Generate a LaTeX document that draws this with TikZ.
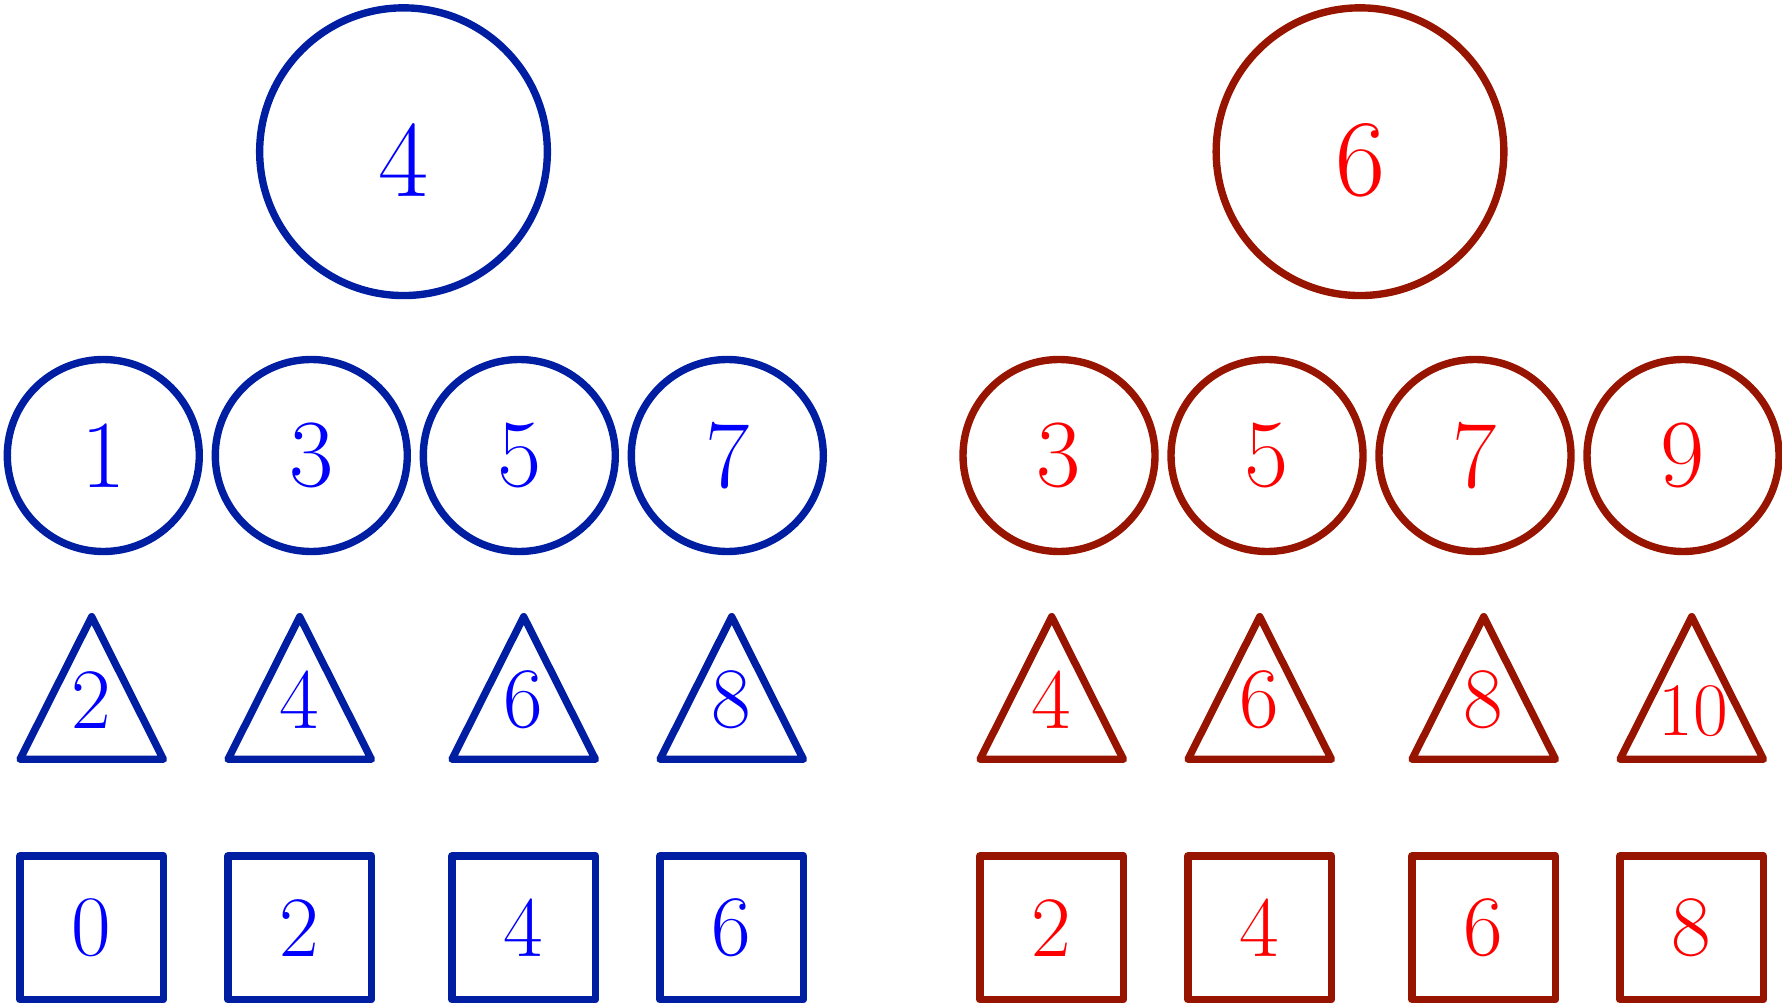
\documentclass[tikz,border=0pt]{standalone}
\usepackage{xcolor}
\usepackage{tikz}
\usetikzlibrary{positioning}

\definecolor{blueline}{RGB}{0,30,162}
\definecolor{redline}{RGB}{150,20,0}

\begin{document}
\begin{tikzpicture}[
    x=1cm, y=-1cm,
    shape line/.style={line width=2.1pt, line join=round},
    bigcirc/.style={
        draw, circle, shape line, inner sep=0pt,
        minimum size=2.877cm, text height=0.89cm,
        font=\fontsize{31}{36}\selectfont
    },
    smallcirc/.style={
        draw, circle, shape line, inner sep=0pt,
        minimum size=1.92cm, font=\fontsize{27.4}{32}\selectfont
    },
    sqbox/.style={
        draw, rectangle, shape line, inner sep=0pt,
        minimum size=1.437cm, font=\fontsize{24.5}{29}\selectfont
    },
    trilabel/.style={inner sep=0pt, font=\fontsize{24.5}{29}\selectfont},
    bluepart/.style={draw=blueline, text=blue},
    redpart/.style={draw=redline, text=red},
]
\useasboundingbox (0,0) rectangle (17.82,10.05);

% ── blue group ──
\node[bigcirc, bluepart] (blueTop) at (4.035,1.517) {4};

\node[smallcirc, bluepart] (blueC1) at (1.033,4.555) {1};
\node[smallcirc, bluepart] (blueC2) at (3.113,4.555) {3};
\node[smallcirc, bluepart] (blueC3) at (5.193,4.555) {5};
\node[smallcirc, bluepart] (blueC4) at (7.273,4.555) {7};

\node[trilabel, text=blue] (blueT1) at (0.917,7.00) {2};
\node[trilabel, text=blue] (blueT2) at (2.997,7.00) {4};
\node[trilabel, text=blue] (blueT3) at (5.237,7.00) {6};
\node[trilabel, text=blue] (blueT4) at (7.317,7.00) {8};
\draw[shape line, blueline] (0.917,6.167) -- ++(-0.717,1.426) -- ++(1.434,0) -- cycle;
\draw[shape line, blueline] (2.997,6.167) -- ++(-0.717,1.426) -- ++(1.434,0) -- cycle;
\draw[shape line, blueline] (5.237,6.167) -- ++(-0.717,1.426) -- ++(1.434,0) -- cycle;
\draw[shape line, blueline] (7.317,6.167) -- ++(-0.717,1.426) -- ++(1.434,0) -- cycle;

\node[sqbox, bluepart] (blueS1) at (0.917,9.278) {0};
\node[sqbox, bluepart] (blueS2) at (2.997,9.278) {2};
\node[sqbox, bluepart] (blueS3) at (5.237,9.278) {4};
\node[sqbox, bluepart] (blueS4) at (7.317,9.278) {6};

% ── red group ──
\node[bigcirc, redpart] (redTop) at (13.60,1.517) {6};

\node[smallcirc, redpart] (redC1) at (10.59,4.555) {3};
\node[smallcirc, redpart] (redC2) at (12.67,4.555) {5};
\node[smallcirc, redpart] (redC3) at (14.75,4.555) {7};
\node[smallcirc, redpart] (redC4) at (16.83,4.555) {9};

\node[trilabel, text=red] (redT1) at (10.517,7.00) {4};
\node[trilabel, text=red] (redT2) at (12.597,7.00) {6};
\node[trilabel, text=red] (redT3) at (14.837,7.00) {8};
\node[trilabel, text=red, font=\fontsize{21.5}{26}\selectfont] (redT4) at (16.93,7.11) {10};
\draw[shape line, redline] (10.517,6.167) -- ++(-0.717,1.426) -- ++(1.434,0) -- cycle;
\draw[shape line, redline] (12.597,6.167) -- ++(-0.717,1.426) -- ++(1.434,0) -- cycle;
\draw[shape line, redline] (14.837,6.167) -- ++(-0.717,1.426) -- ++(1.434,0) -- cycle;
\draw[shape line, redline] (16.917,6.167) -- ++(-0.717,1.426) -- ++(1.434,0) -- cycle;

\node[sqbox, redpart] (redS1) at (10.517,9.278) {2};
\node[sqbox, redpart] (redS2) at (12.597,9.278) {4};
\node[sqbox, redpart] (redS3) at (14.837,9.278) {6};
\node[sqbox, redpart] (redS4) at (16.917,9.278) {8};

\end{tikzpicture}
\end{document}
